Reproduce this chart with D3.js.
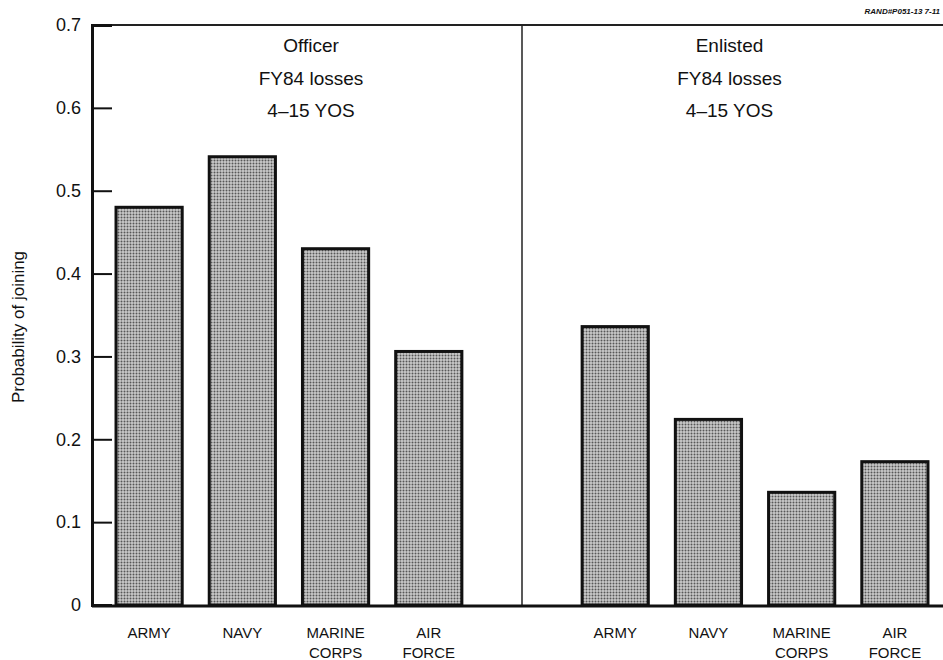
<!DOCTYPE html>
<html>
<head>
<meta charset="utf-8">
<script src="https://cdn.jsdelivr.net/npm/d3@7"></script>
<style>
  body { margin: 0; background: #fff; }
  text { font-family: "Liberation Sans", Arial, sans-serif; fill: #111; }
</style>
</head>
<body>
<script>
// data
var services = ["ARMY", "NAVY", "MARINE CORPS", "AIR FORCE"];
var officerValues = [0.48, 0.541, 0.43, 0.306];
var enlistedValues = [0.336, 0.224, 0.136, 0.173];
var panels = ["Officer", "Enlisted"];
var panelSubtitle = ["FY84 losses", "4\u201315 YOS"];
var yTicks = [0, 0.1, 0.2, 0.3, 0.4, 0.5, 0.6, 0.7];

var width = 943, height = 660;
var margin = {top: 25, right: 0, bottom: 54, left: 92};

var svg = d3.select("body")
    .append("svg")
    .attr("width", width)
    .attr("height", height)
    .attr("viewBox", [0, 0, width, height]);

// stipple pattern for the bars
var defs = svg.append("defs");
var pat = defs.append("pattern")
    .attr("id", "dots")
    .attr("patternUnits", "userSpaceOnUse")
    .attr("width", 3).attr("height", 3);
pat.append("rect").attr("width", 3).attr("height", 3).attr("fill", "#cacaca");
pat.append("circle").attr("cx", 1.5).attr("cy", 1.5).attr("r", 1).attr("fill", "#575757");

var data = [];
services.forEach((s, i) => data.push({panel: "Officer", service: s, value: officerValues[i]}));
enlistedValues.forEach((v, i) => data.push({panel: "Enlisted", service: services[i], value: v}));

// one band per bar plus an empty slot where the divider sits
var slots = data.slice(0, 4).map(d => d.panel + d.service)
    .concat(["gap"])
    .concat(data.slice(4).map(d => d.panel + d.service));

var xscale = d3.scaleBand()
    .domain(slots)
    .range([102.5, 941.5])
    .paddingInner(0.29)
    .paddingOuter(0.145);

var yscale = d3.scaleLinear()
    .domain([0, 0.7])
    .range([height - margin.bottom - 1, margin.top]);

var x0 = margin.left, x1 = width;
var divX = xscale("gap") + xscale.bandwidth() / 2;

// bars
svg.append("g")
    .selectAll("rect")
    .data(data)
    .join("rect")
    .attr("x", d => xscale(d.panel + d.service))
    .attr("y", d => yscale(d.value))
    .attr("width", xscale.bandwidth())
    .attr("height", d => yscale(0) - yscale(d.value))
    .attr("fill", "url(#dots)")
    .attr("stroke", "#111")
    .attr("stroke-width", 3);

// frame: top line, divider, baseline
svg.append("line")
    .attr("x1", x0).attr("x2", x1)
    .attr("y1", yscale(0.7)).attr("y2", yscale(0.7))
    .attr("stroke", "#222").attr("stroke-width", 2);
svg.append("line")
    .attr("x1", divX).attr("x2", divX)
    .attr("y1", yscale(0.7)).attr("y2", yscale(0))
    .attr("stroke", "#222").attr("stroke-width", 1.5);
svg.append("line")
    .attr("x1", x0).attr("x2", x1)
    .attr("y1", yscale(0) + 1).attr("y2", yscale(0) + 1)
    .attr("stroke", "#111").attr("stroke-width", 3);

// y-axis with inward ticks
var yAxis = svg.append("g")
    .attr("transform", `translate(${x0},0)`)
    .call(d3.axisRight(yscale).tickValues(yTicks).tickSize(20).tickFormat(d => d === 0 ? "0" : d3.format(".1f")(d)));
yAxis.select(".domain").attr("stroke", "#111").attr("stroke-width", 3);
yAxis.selectAll(".tick line").attr("stroke", "#111").attr("stroke-width", 2);
yAxis.selectAll(".tick text")
    .attr("x", -11)
    .attr("text-anchor", "end")
    .attr("font-size", 18)
    .attr("fill", "#111");
yAxis.selectAll(".tick").filter(d => d === 0 || d === 0.7).select("line").remove();

// y label
svg.append("text")
    .attr("transform", `translate(24,${(yscale(0) + yscale(0.7)) / 2 + 12}) rotate(-90)`)
    .attr("text-anchor", "middle")
    .attr("font-size", 17)
    .text("Probability of joining");

// category labels
var lab = svg.append("g")
    .selectAll("text")
    .data(data)
    .join("text")
    .attr("text-anchor", "middle")
    .attr("font-size", 15)
    .attr("transform", d => `translate(${xscale(d.panel + d.service) + xscale.bandwidth() / 2},${yscale(0) + 33})`);
lab.selectAll("tspan")
    .data(d => d.service.split(" "))
    .join("tspan")
    .attr("x", 0)
    .attr("dy", (d, i) => i === 0 ? 0 : 20)
    .text(d => d);

// panel headings
var panelCenters = [(x0 + divX) / 2 + 4, (divX + x1) / 2 - 3];
panels.forEach((p, i) => {
    var lines = [p].concat(panelSubtitle);
    lines.forEach((t, j) => {
        svg.append("text")
            .attr("x", panelCenters[i])
            .attr("y", 52 + j * 32.5)
            .attr("text-anchor", "middle")
            .attr("font-size", 19)
            .text(t);
    });
});

// figure id, top right
svg.append("text")
    .attr("x", 940)
    .attr("y", 14)
    .attr("text-anchor", "end")
    .attr("font-size", 8)
    .attr("font-weight", "bold")
    .attr("font-style", "italic")
    .text("RAND#P051-13 7-11");
</script>
</body>
</html>
